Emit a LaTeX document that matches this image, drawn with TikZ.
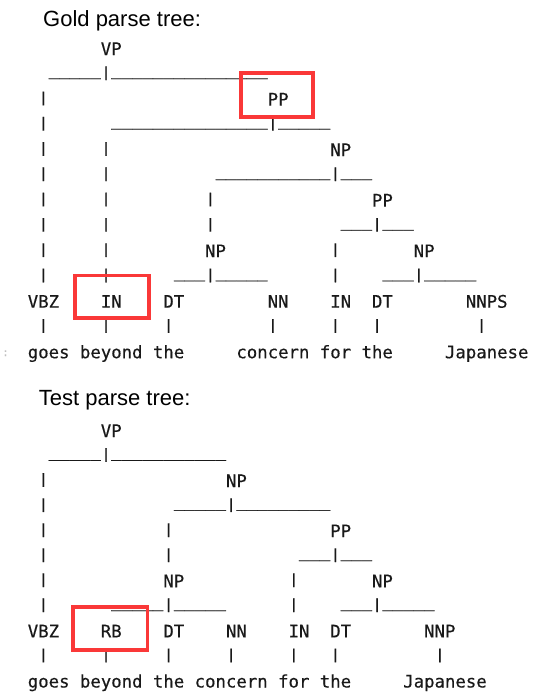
\documentclass[tikz,border=0pt]{standalone}
\usepackage{fontspec}
\usepackage{graphicx}
\newfontfamily\monof[FakeBold=0.35]{DejaVu Sans Mono}
\newfontfamily\titlef{Liberation Sans}
\definecolor{hl}{RGB}{250,56,56}
\definecolor{ink}{RGB}{25,25,25}
\def\X{27.6}
\def\W{10.43}
\def\baseg{55}\def\pitchg{25.27}
\def\baset{437}\def\pitcht{25.05}
\newcommand\rowy[2]{\csname base#1\endcsname+#2*\csname pitch#1\endcsname}
\newcommand\Us[1]{\foreach\ii in {1,...,#1}{\_}}
% label: tree, line, col, name, text
\newcommand\Lb[5]{\node[mono] (#1#4) at ({\X+#3*\W},{\rowy{#1}{#2}}) {#5};}
% vertical bars: tree, line, list of cols
\newcommand\Vb[3]{\foreach \cc in {#3}{\node[mono] (#1v#2c\cc) at ({\X+\cc*\W},{\rowy{#1}{#2}}) {\raisebox{3.4pt}{\scalebox{1}[0.79]{|}}};}}
% underscores: tree, line, col, count
\newcommand\Ub[4]{\node[mono,yshift=5.3pt] (#1u#2c#3) at ({\X+#3*\W},{\rowy{#1}{#2}}) {\Us{#4}};}
\tikzset{
  mono/.style={font=\monof\fontsize{17.33}{20}\selectfont, text=ink, inner sep=0pt, anchor=base west},
  titlest/.style={font=\titlef\fontsize{22}{26}\selectfont, text=black, inner sep=0pt, anchor=base west},
  hlbox/.style={draw=hl, line width=3.8pt}
}
\begin{document}
\begin{tikzpicture}[x=1pt,y=-1pt]
\useasboundingbox (0,0) rectangle (534,694);
\fill[white] (0,0) rectangle (534,694);
% ---------------- Gold tree ----------------
\node[titlest] (gtitle) at (43,26.7) {Gold parse tree:};
\Lb{g}{0}{7}{VP}{VP}
\Ub{g}{1}{2}{5}\Vb{g}{1}{7}\Ub{g}{1}{8}{15}
\Vb{g}{2}{1}\Lb{g}{2}{23}{PPa}{PP}
\Vb{g}{3}{1}\Ub{g}{3}{8}{15}\Vb{g}{3}{23}\Ub{g}{3}{24}{5}
\Vb{g}{4}{1,7}\Lb{g}{4}{29}{NPa}{NP}
\Vb{g}{5}{1,7}\Ub{g}{5}{18}{11}\Vb{g}{5}{29}\Ub{g}{5}{30}{3}
\Vb{g}{6}{1,7,17}\Lb{g}{6}{33}{PPb}{PP}
\Vb{g}{7}{1,7,17}\Ub{g}{7}{30}{3}\Vb{g}{7}{33}\Ub{g}{7}{34}{3}
\Vb{g}{8}{1,7}\Lb{g}{8}{17}{NPb}{NP}\Vb{g}{8}{29}\Lb{g}{8}{37}{NPc}{NP}
\Vb{g}{9}{1,7}\Ub{g}{9}{14}{3}\Vb{g}{9}{17}\Ub{g}{9}{18}{5}\Vb{g}{9}{29}\Ub{g}{9}{34}{3}\Vb{g}{9}{37}\Ub{g}{9}{38}{5}
\Lb{g}{10}{0}{VBZ}{VBZ}\Lb{g}{10}{7}{INa}{IN}\Lb{g}{10}{13}{DTa}{DT}\Lb{g}{10}{23}{NN}{NN}\Lb{g}{10}{29}{INb}{IN}\Lb{g}{10}{33}{DTb}{DT}\Lb{g}{10}{42}{NNPS}{NNPS}
\Vb{g}{11}{1,7,13,23,29,33,43}
\Lb{g}{12}{0}{w1}{goes}\Lb{g}{12}{5}{w2}{beyond}\Lb{g}{12}{12}{w3}{the}\Lb{g}{12}{20}{w4}{concern}\Lb{g}{12}{28}{w5}{for}\Lb{g}{12}{32}{w6}{the}\Lb{g}{12}{40}{w7}{Japanese}
\node[font=\monof\fontsize{11}{12}\selectfont, text=gray!50, anchor=base west, inner sep=0pt] (gcolon) at (2,356) {:};
\draw[hlbox] (240.9,73.2) rectangle (313.1,116.8);
\draw[hlbox] (74.6,275.4) rectangle (148.6,318.1);
% ---------------- Test tree ----------------
\node[titlest] (ttitle) at (38.7,405) {Test parse tree:};
\Lb{t}{0}{7}{VP}{VP}
\Ub{t}{1}{2}{5}\Vb{t}{1}{7}\Ub{t}{1}{8}{11}
\Vb{t}{2}{1}\Lb{t}{2}{19}{NPa}{NP}
\Vb{t}{3}{1}\Ub{t}{3}{14}{5}\Vb{t}{3}{19}\Ub{t}{3}{20}{9}
\Vb{t}{4}{1,13}\Lb{t}{4}{29}{PP}{PP}
\Vb{t}{5}{1,13}\Ub{t}{5}{26}{3}\Vb{t}{5}{29}\Ub{t}{5}{30}{3}
\Vb{t}{6}{1}\Lb{t}{6}{13}{NPb}{NP}\Vb{t}{6}{25}\Lb{t}{6}{33}{NPc}{NP}
\Vb{t}{7}{1}\Ub{t}{7}{8}{5}\Vb{t}{7}{13}\Ub{t}{7}{14}{5}\Vb{t}{7}{25}\Ub{t}{7}{30}{3}\Vb{t}{7}{33}\Ub{t}{7}{34}{5}
\Lb{t}{8}{0}{VBZ}{VBZ}\Lb{t}{8}{7}{RB}{RB}\Lb{t}{8}{13}{DTa}{DT}\Lb{t}{8}{19}{NN}{NN}\Lb{t}{8}{25}{IN}{IN}\Lb{t}{8}{29}{DTb}{DT}\Lb{t}{8}{38}{NNP}{NNP}
\Vb{t}{9}{1,7,13,19,25,29,39}
\Lb{t}{10}{0}{w1}{goes}\Lb{t}{10}{5}{w2}{beyond}\Lb{t}{10}{12}{w3}{the}\Lb{t}{10}{16}{w4}{concern}\Lb{t}{10}{24}{w5}{for}\Lb{t}{10}{28}{w6}{the}\Lb{t}{10}{36}{w7}{Japanese}
\draw[hlbox] (73.2,606.9) rectangle (147.4,649.6);
\end{tikzpicture}
\end{document}
